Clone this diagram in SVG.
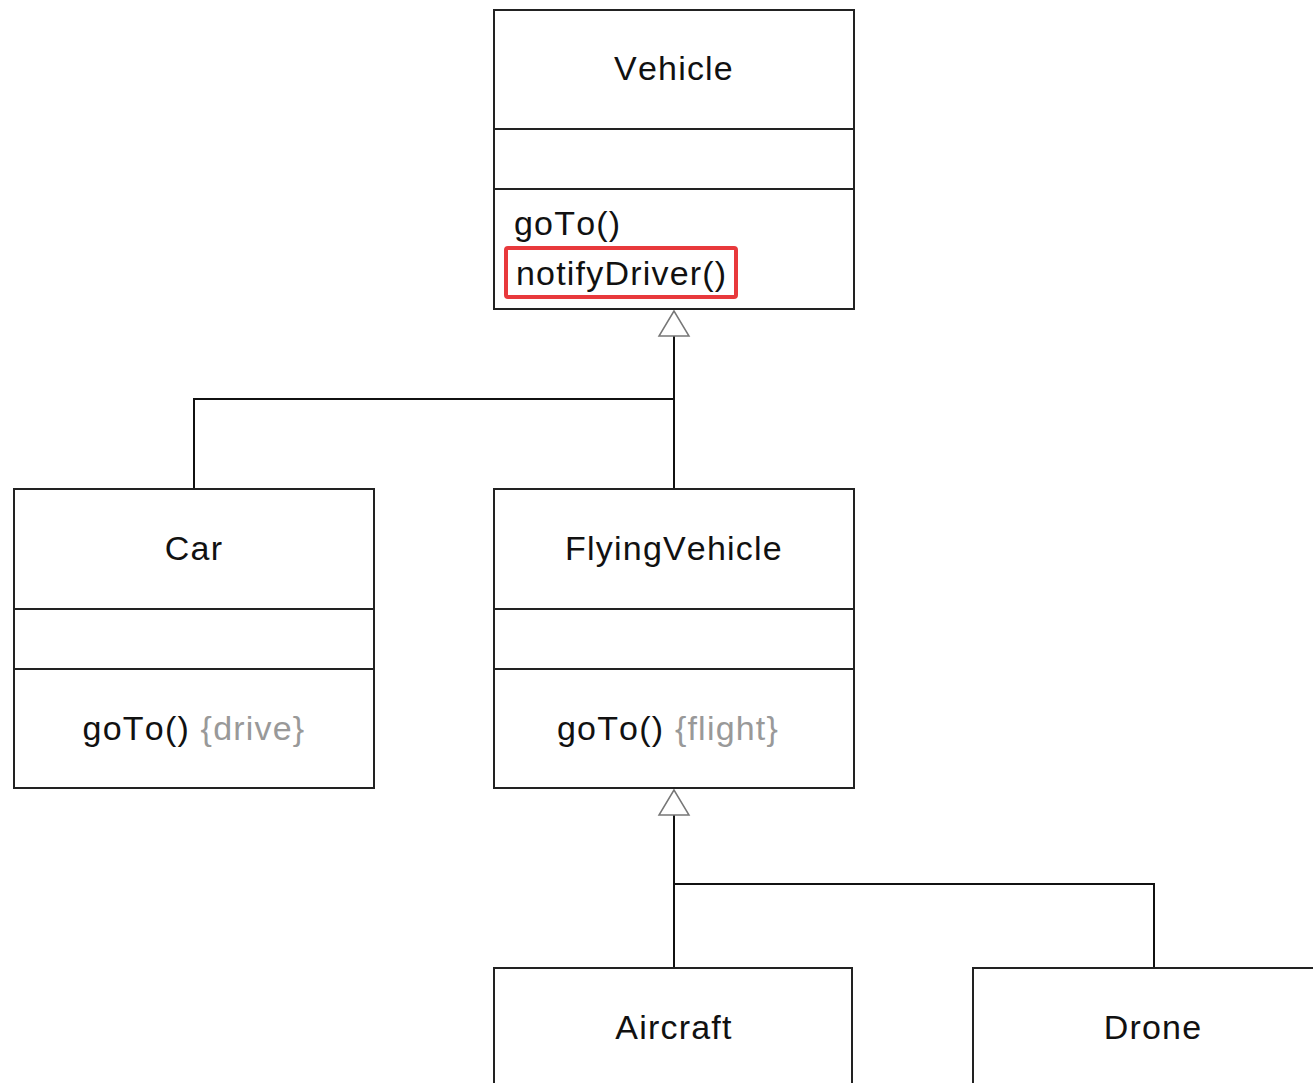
<svg xmlns="http://www.w3.org/2000/svg" width="1313" height="1083" viewBox="0 0 1313 1083">
<style>
.box{fill:#fff;stroke:#222;stroke-width:2}
.div{stroke:#222;stroke-width:2}
.t{font-family:"Liberation Sans",Arial,sans-serif;font-size:34px;fill:#111;letter-spacing:1.2px;font-kerning:none}
.c{text-anchor:middle}
.g{fill:#999}
.conn{fill:none;stroke:#111;stroke-width:2}
.tri{fill:#fff;stroke:#777;stroke-width:1.5}
</style>
<rect width="1313" height="1083" fill="#fff"/>
<g id="connectors">
<polyline class="conn" points="674,336 674,489"/>
<polyline class="conn" points="194,489 194,399 674,399"/>
<polygon class="tri" points="674,311 659,336 689,336"/>
<polyline class="conn" points="674,815 674,968"/>
<polyline class="conn" points="1154,968 1154,884 674,884"/>
<polygon class="tri" points="674,790 659,815 689,815"/>
</g>
<g id="vehicle">
<rect class="box" x="494" y="10" width="360" height="299"/>
<line class="div" x1="494" y1="129" x2="854" y2="129"/>
<line class="div" x1="494" y1="189" x2="854" y2="189"/>
<text class="t c" x="674" y="80">Vehicle</text>
<text class="t" x="514" y="235">goTo()</text>
<text class="t" x="516" y="285">notifyDriver()</text>
<rect x="506" y="248" width="230" height="49" rx="2" fill="none" stroke="#e8393c" stroke-width="4"/>
</g>
<g id="car">
<rect class="box" x="14" y="489" width="360" height="299"/>
<line class="div" x1="14" y1="609" x2="374" y2="609"/>
<line class="div" x1="14" y1="669" x2="374" y2="669"/>
<text class="t c" x="194" y="560">Car</text>
<text class="t c" x="194" y="740">goTo() <tspan class="g">{drive}</tspan></text>
</g>
<g id="flyingvehicle">
<rect class="box" x="494" y="489" width="360" height="299"/>
<line class="div" x1="494" y1="609" x2="854" y2="609"/>
<line class="div" x1="494" y1="669" x2="854" y2="669"/>
<text class="t c" x="674" y="560">FlyingVehicle</text>
<text class="t c" x="668" y="740">goTo() <tspan class="g">{flight}</tspan></text>
</g>
<g id="aircraft">
<rect class="box" x="494" y="968" width="358" height="140"/>
<text class="t c" x="674" y="1039">Aircraft</text>
</g>
<g id="drone">
<rect class="box" x="973" y="968" width="360" height="140"/>
<text class="t c" x="1153" y="1039">Drone</text>
</g>
</svg>
